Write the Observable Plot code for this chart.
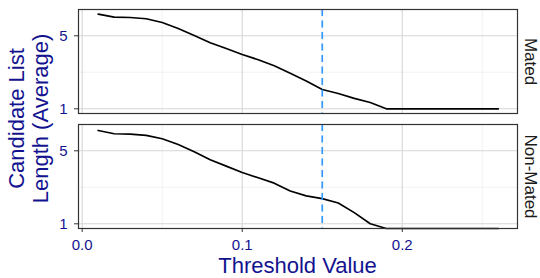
<!DOCTYPE html>
<html>
<head>
<meta charset="utf-8">
<script src="https://cdn.jsdelivr.net/npm/d3@7"></script>
<script src="https://cdn.jsdelivr.net/npm/@observablehq/plot@0.6"></script>
<style>
  html, body { margin: 0; padding: 0; background: #fff; }
  #chart { width: 540px; height: 278px; }
</style>
</head>
<body>
<div id="chart"></div>
<script>
const thresholds = [0.01,0.02,0.03,0.04,0.05,0.06,0.07,0.08,0.09,0.10,0.11,0.12,0.13,0.14,0.15,0.16,0.17,0.18,0.19,0.20,0.21,0.22,0.23,0.24,0.25,0.26];
const mated    = [8.05,7.54,7.49,7.28,6.71,5.88,5.04,4.29,3.78,3.31,2.95,2.58,2.19,1.85,1.53,1.40,1.26,1.15,1,1,1,1,1,1,1,1];
const nonMated = [7.83,7.28,7.22,7.02,6.52,5.75,4.89,4.10,3.57,3.10,2.76,2.45,2.06,1.85,1.74,1.58,1.28,1.0,0,0,0,0,0,0,0,0];
const panels = ["Mated", "Non-Mated"];
const xTicks = [0, 0.1, 0.2];
const xMinor = [0.05, 0.15, 0.25];
const yTicks = [1, 5];
const yMinor = [2.236];
const cutoff = [0.15];
const yTitle = ["Candidate List", "Length (Average)"];
const xTitle = "Threshold Value";

const rows = [];
thresholds.forEach((t, i) => {
  rows.push({panel: panels[0], x: t, y: mated[i]});
  rows.push({panel: panels[1], x: t, y: nonMated[i]});
});

const labelColor = "#13138f";
const chart = Plot.plot({
  width: 540,
  height: 278,
  marginLeft: 78,
  marginRight: 23,
  marginTop: 9,
  marginBottom: 50,
  style: {fontFamily: "'Liberation Sans', Arial, Helvetica, sans-serif", background: "#fff"},
  x: {domain: [-0.0023, 0.272]},
  y: {type: "log", domain: [0.9016, 8.93], clamp: true},
  fy: {domain: panels, paddingInner: 0.096, paddingOuter: 0, axis: null},
  marks: [
    Plot.ruleX(xMinor, {stroke: "#ececec", strokeWidth: 0.7}),
    Plot.ruleY(yMinor, {stroke: "#ececec", strokeWidth: 0.7}),
    Plot.ruleX(xTicks, {stroke: "#d6d6d6", strokeWidth: 1.1}),
    Plot.ruleY(yTicks, {stroke: "#d6d6d6", strokeWidth: 1.1}),
    Plot.line(rows, {x: "x", y: "y", fy: "panel", stroke: "black", strokeWidth: 1.7}),
    Plot.ruleX(cutoff, {stroke: "#3399ff", strokeWidth: 1.7, strokeDasharray: "7,4.5"}),
    Plot.frame({stroke: "#333", strokeWidth: 1.2}),
    Plot.text(panels, {fy: d => d, text: d => d, frameAnchor: "right", rotate: 90, dx: 13, textAnchor: "middle", lineAnchor: "middle", fontSize: 17, fill: "#1a1a1a"}),
    Plot.axisX({ticks: xTicks, tickFormat: d3.format(".1f"), tickSize: 4, tickPadding: 7, fontSize: 15, fill: labelColor, stroke: "#333", label: null}),
    Plot.axisY({ticks: yTicks, tickFormat: d => String(d), tickSize: 4, tickPadding: 7, fontSize: 15, fill: labelColor, stroke: "#333", label: null})
  ]
});
document.getElementById("chart").appendChild(chart);

const svg = d3.select(chart);
const font = "'Liberation Sans', Arial, Helvetica, sans-serif";
svg.append("text")
  .attr("x", 297.5).attr("y", 273)
  .attr("text-anchor", "middle")
  .attr("font-size", 22).attr("font-family", font)
  .attr("fill", labelColor)
  .text(xTitle);
[24, 47.7].forEach((bx, i) => {
  svg.append("text")
    .attr("transform", `translate(${bx},118.5) rotate(-90)`)
    .attr("text-anchor", "middle")
    .attr("font-size", 22).attr("font-family", font)
    .attr("fill", labelColor)
    .text(yTitle[i]);
});
</script>
</body>
</html>
